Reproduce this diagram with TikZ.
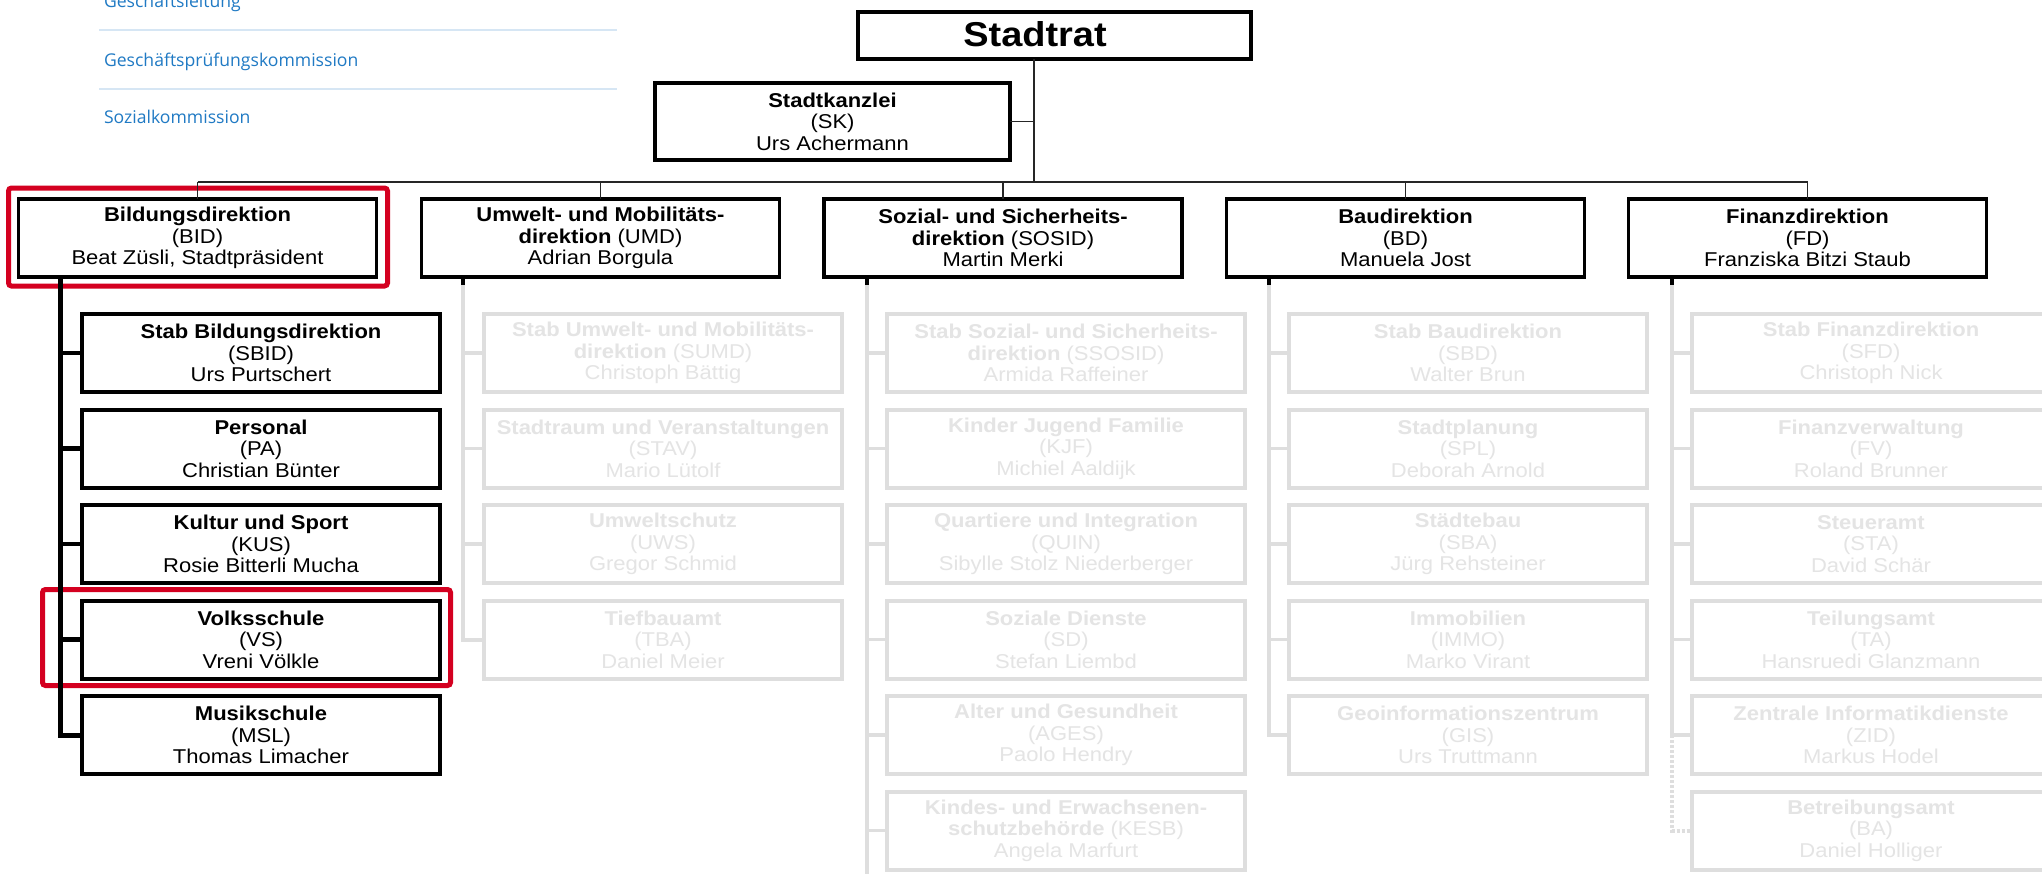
\documentclass[tikz,border=0pt]{standalone}
\usepackage{fontspec}
\setmainfont{Liberation Sans}[FakeStretch=1.1]
\newfontfamily\webfont{Open Sans}
\usetikzlibrary{calc}

\definecolor{mutegrey}{RGB}{222,222,222}
\definecolor{mutetext}{RGB}{228,228,228}
\definecolor{hlred}{RGB}{212,0,32}
\definecolor{navblue}{RGB}{32,122,196}
\definecolor{navline}{RGB}{214,230,244}

\newcommand\orgfont{\fontsize{20}{21.5}\selectfont}

\begin{document}
\begin{tikzpicture}[x=1pt,y=-1pt,
  every node/.style={inner sep=0pt,outer sep=0pt},
  headbox/.style={draw=black,line width=4pt,minimum width=393pt,minimum height=47pt},
  dirbox/.style={draw=black,line width=3.6pt,minimum width=358pt,minimum height=78pt,align=center,font=\orgfont},
  subbox/.style={draw=black,line width=4pt,minimum width=358pt,minimum height=78pt,align=center,font=\orgfont},
  mutedbox/.style={subbox,draw=mutegrey,text=mutetext},
  link/.style={draw=black!85,line width=1.4pt},
  spine/.style={draw=black,line width=5pt},
  twig/.style={draw=black,line width=4.5pt},
  stubtop/.style={draw=black,line width=4pt},
  mutedspine/.style={draw=mutegrey,line width=4pt},
  mutedtwig/.style={draw=mutegrey,line width=3.5pt},
  hlframe/.style={draw=hlred,line width=5pt,rounded corners=3pt},
  navlink/.style={font=\webfont\fontsize{17.6}{20}\selectfont,text=navblue,anchor=base west},
  navsep/.style={draw=navline,line width=2pt},
]
\useasboundingbox (0,0) rectangle (2042,873);
\fill[white] (0,0) rectangle (2042,873);
\clip (0,0) rectangle (2042,873);

% ---------- navigation list (top left) ----------
\node[navlink] (nav1) at (104,7) {Geschäftsleitung};
\node[navlink] (nav2) at (104,66) {Geschäftsprüfungskommission};
\node[navlink] (nav3) at (104,123) {Sozialkommission};
\draw[navsep] (99,30) -- (617,30);
\draw[navsep] (99,89) -- (617,89);

% ---------- top level ----------
\node[headbox] (rat) at (1054.5,35.5) {};
\node[font=\bfseries\fontsize{34.5}{40}\selectfont,anchor=base] (rattitle) at (1035,46) {Stadtrat};
\node[dirbox,line width=4pt,minimum width=355pt,minimum height=77pt] (sk) at (832.5,121.5)
  {\textbf{Stadtkanzlei}\\(SK)\\Urs Achermann};

% ---------- directorates ----------
\node[dirbox] (bid) at (197.5,238) {\textbf{Bildungsdirektion}\\(BID)\\Beat Züsli, Stadtpräsident};
\node[dirbox] (umd) at (600.5,238) {\textbf{Umwelt- und Mobilitäts-}\\\textbf{direktion} (UMD)\\Adrian Borgula};
\node[dirbox] (sosid) at (1003,238) {\textbf{Sozial- und Sicherheits-}\\\textbf{direktion} (SOSID)\\Martin Merki};
\node[dirbox] (bd) at (1405.5,238) {\textbf{Baudirektion}\\(BD)\\Manuela Jost};
\node[dirbox] (fd) at (1807.5,238) {\textbf{Finanzdirektion}\\(FD)\\Franziska Bitzi Staub};

% highlight frames
\draw[hlframe] ($(bid.north west)+(-10,-11)$) rectangle ($(bid.south east)+(11,9)$);

% ---------- Bildungsdirektion (active column) ----------
\node[subbox] (bid1) at (261,353)   {\textbf{Stab Bildungsdirektion}\\(SBID)\\Urs Purtschert};
\node[subbox] (bid2) at (261,448.5) {\textbf{Personal}\\(PA)\\Christian Bünter};
\node[subbox] (bid3) at (261,544)   {\textbf{Kultur und Sport}\\(KUS)\\Rosie Bitterli Mucha};
\node[subbox] (bid4) at (261,639.5) {\textbf{Volksschule}\\(VS)\\Vreni Völkle};
\node[subbox] (bid5) at (261,735)   {\textbf{Musikschule}\\(MSL)\\Thomas Limacher};
\draw[hlframe] ($(bid4.north west)+(-39.5,-11)$) rectangle ($(bid4.south east)+(10.5,7)$);

% ---------- Umwelt- und Mobilitätsdirektion ----------
\node[mutedbox] (umd1) at (663,353)   {\textbf{Stab Umwelt- und Mobilitäts-}\\\textbf{direktion} (SUMD)\\Christoph Bättig};
\node[mutedbox] (umd2) at (663,448.5) {\textbf{Stadtraum und Veranstaltungen}\\(STAV)\\Mario Lütolf};
\node[mutedbox] (umd3) at (663,544)   {\textbf{Umweltschutz}\\(UWS)\\Gregor Schmid};
\node[mutedbox] (umd4) at (663,639.5) {\textbf{Tiefbauamt}\\(TBA)\\Daniel Meier};

% ---------- Sozial- und Sicherheitsdirektion ----------
\node[mutedbox] (sosid1) at (1066,353)   {\textbf{Stab Sozial- und Sicherheits-}\\\textbf{direktion} (SSOSID)\\Armida Raffeiner};
\node[mutedbox] (sosid2) at (1066,448.5) {\textbf{Kinder Jugend Familie}\\(KJF)\\Michiel Aaldijk};
\node[mutedbox] (sosid3) at (1066,544)   {\textbf{Quartiere und Integration}\\(QUIN)\\Sibylle Stolz Niederberger};
\node[mutedbox] (sosid4) at (1066,639.5) {\textbf{Soziale Dienste}\\(SD)\\Stefan Liembd};
\node[mutedbox] (sosid5) at (1066,735)   {\textbf{Alter und Gesundheit}\\(AGES)\\Paolo Hendry};
\node[mutedbox] (sosid6) at (1066,830.5) {\textbf{Kindes- und Erwachsenen-}\\\textbf{schutzbehörde} (KESB)\\Angela Marfurt};

% ---------- Baudirektion ----------
\node[mutedbox] (bd1) at (1468,353)   {\textbf{Stab Baudirektion}\\(SBD)\\Walter Brun};
\node[mutedbox] (bd2) at (1468,448.5) {\textbf{Stadtplanung}\\(SPL)\\Deborah Arnold};
\node[mutedbox] (bd3) at (1468,544)   {\textbf{Städtebau}\\(SBA)\\Jürg Rehsteiner};
\node[mutedbox] (bd4) at (1468,639.5) {\textbf{Immobilien}\\(IMMO)\\Marko Virant};
\node[mutedbox] (bd5) at (1468,735)   {\textbf{Geoinformationszentrum}\\(GIS)\\Urs Truttmann};

% ---------- Finanzdirektion ----------
\node[mutedbox] (fd1) at (1871,353)   {\textbf{Stab Finanzdirektion}\\(SFD)\\Christoph Nick};
\node[mutedbox] (fd2) at (1871,448.5) {\textbf{Finanzverwaltung}\\(FV)\\Roland Brunner};
\node[mutedbox] (fd3) at (1871,544)   {\textbf{Steueramt}\\(STA)\\David Schär};
\node[mutedbox] (fd4) at (1871,639.5) {\textbf{Teilungsamt}\\(TA)\\Hansruedi Glanzmann};
\node[mutedbox] (fd5) at (1871,735)   {\textbf{Zentrale Informatikdienste}\\(ZID)\\Markus Hodel};
\node[mutedbox] (fd6) at (1871,830.5) {\textbf{Betreibungsamt}\\(BA)\\Daniel Holliger};

% ---------- upper connectors ----------
\coordinate (trunk) at (1034,182);
\draw[link] (rat.south -| trunk) -- (trunk);
\draw[link] (sk.east) -- (sk.east -| trunk);
\draw[link] (bid.north |- trunk) -- (fd.north |- trunk);
\foreach \d in {bid,umd,sosid,bd,fd}
  \draw[link] (\d.north |- trunk) -- (\d.north);

% ---------- column spines ----------
\coordinate (bidspine) at (60,0);
\coordinate (umdspine) at (463,0);
\coordinate (sosidspine) at (867,0);
\coordinate (bdspine) at (1269,0);
\coordinate (fdspine) at (1672,0);
\coordinate (sosidfoot) at (867,880);

% Bildungsdirektion
\draw[spine] (bid.south -| bidspine) |- (bid5.west);
\foreach \i in {1,...,4}
  \draw[twig] (bid\i.west -| bidspine) -- (bid\i.west);

% Umwelt- und Mobilitätsdirektion
\draw[mutedspine] (umd.south -| umdspine) |- (umd4.west);
\foreach \i in {1,...,3}
  \draw[mutedtwig] (umd\i.west -| umdspine) -- (umd\i.west);
\draw[stubtop] (umd.south -| umdspine) -- ++(0,8);

% Sozial- und Sicherheitsdirektion
\draw[mutedspine] (sosid.south -| sosidspine) -- (sosidfoot);
\foreach \i in {1,...,6}
  \draw[mutedtwig] (sosid\i.west -| sosidspine) -- (sosid\i.west);
\draw[stubtop] (sosid.south -| sosidspine) -- ++(0,8);

% Baudirektion
\draw[mutedspine] (bd.south -| bdspine) |- (bd5.west);
\foreach \i in {1,...,4}
  \draw[mutedtwig] (bd\i.west -| bdspine) -- (bd\i.west);
\draw[stubtop] (bd.south -| bdspine) -- ++(0,8);

% Finanzdirektion
\draw[mutedspine] (fd.south -| fdspine) |- (fd5.west);
\foreach \i in {1,...,4}
  \draw[mutedtwig] (fd\i.west -| fdspine) -- (fd\i.west);
\draw[mutedspine,dash pattern=on 3pt off 2pt] (fd5.west -| fdspine) |- (fd6.west);
\draw[stubtop] (fd.south -| fdspine) -- ++(0,8);
\end{tikzpicture}
\end{document}
